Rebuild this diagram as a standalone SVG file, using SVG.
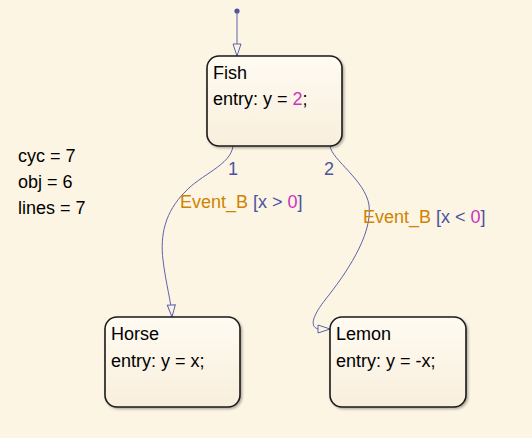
<svg xmlns="http://www.w3.org/2000/svg" width="532" height="438" viewBox="0 0 532 438">
<style>
text{font-family:"Liberation Sans",Arial,sans-serif;font-size:18px;fill:#000}
.box{fill:url(#g);stroke:#1a1a1a;stroke-width:1.6;filter:url(#sh)}
.conn{fill:none;stroke:#5c62ac;stroke-width:1}
.ev{fill:#d08300}
.br{fill:#4c52a0}
.num{fill:#cc33bb}
.lab{fill:#4c52a0}
</style>
<defs>
<linearGradient id="g" x1="0" y1="0" x2="0" y2="1">
<stop offset="0" stop-color="#fffbf2"/>
<stop offset="1" stop-color="#f8eedc"/>
</linearGradient>
<filter id="sh" x="-10%" y="-10%" width="130%" height="130%">
<feDropShadow dx="1.5" dy="1.5" stdDeviation="1.2" flood-color="#000" flood-opacity="0.3"/>
</filter>
<marker id="arr" markerUnits="userSpaceOnUse" markerWidth="14" markerHeight="12" viewBox="0 0 14 12" refX="13" refY="6" orient="auto">
<path d="M1,2 L13,6 L1,10 Z" fill="#fdf5e4" stroke="#5c62ac" stroke-width="1"/>
</marker>
</defs>
<rect width="532" height="438" fill="#fdf5e4"/>
<g id="info">
<text x="18" y="162">cyc = 7</text>
<text x="18" y="188">obj = 6</text>
<text x="18" y="214">lines = 7</text>
</g>
<g id="connectors">
<circle cx="237" cy="11" r="2.6" fill="#4c52a0"/>
<path class="conn" d="M237,11 L237,56" marker-end="url(#arr)"/>
<path class="conn" d="M233,146 C231,165 200,175 185,192 C165,212 160,235 163,260 C166,285 171,300 172,317" marker-end="url(#arr)"/>
<path class="conn" d="M330,146 C332,160 365,180 369,205 C373,235 345,275 325,300 C315,313 308,326 318,329 L330,329" marker-end="url(#arr)"/>
<text class="lab" x="228" y="175">1</text>
<text class="lab" x="324" y="175">2</text>
<text x="180" y="208"><tspan class="ev">Event_B </tspan><tspan class="br">[x &gt; </tspan><tspan class="num">0</tspan><tspan class="br">]</tspan></text>
<text x="363" y="223"><tspan class="ev">Event_B </tspan><tspan class="br">[x &lt; </tspan><tspan class="num">0</tspan><tspan class="br">]</tspan></text>
</g>
<g id="Fish">
<rect class="box" x="207" y="56" width="135" height="90" rx="12"/>
<text x="213" y="79">Fish</text>
<text x="213" y="105">entry: y = <tspan class="num">2</tspan>;</text>
</g>
<g id="Horse">
<rect class="box" x="105" y="317" width="135" height="90" rx="12"/>
<text x="111" y="340">Horse</text>
<text x="111" y="367">entry: y = x;</text>
</g>
<g id="Lemon">
<rect class="box" x="330" y="317" width="136" height="90" rx="12"/>
<text x="336" y="340">Lemon</text>
<text x="336" y="367">entry: y = -x;</text>
</g>
</svg>
